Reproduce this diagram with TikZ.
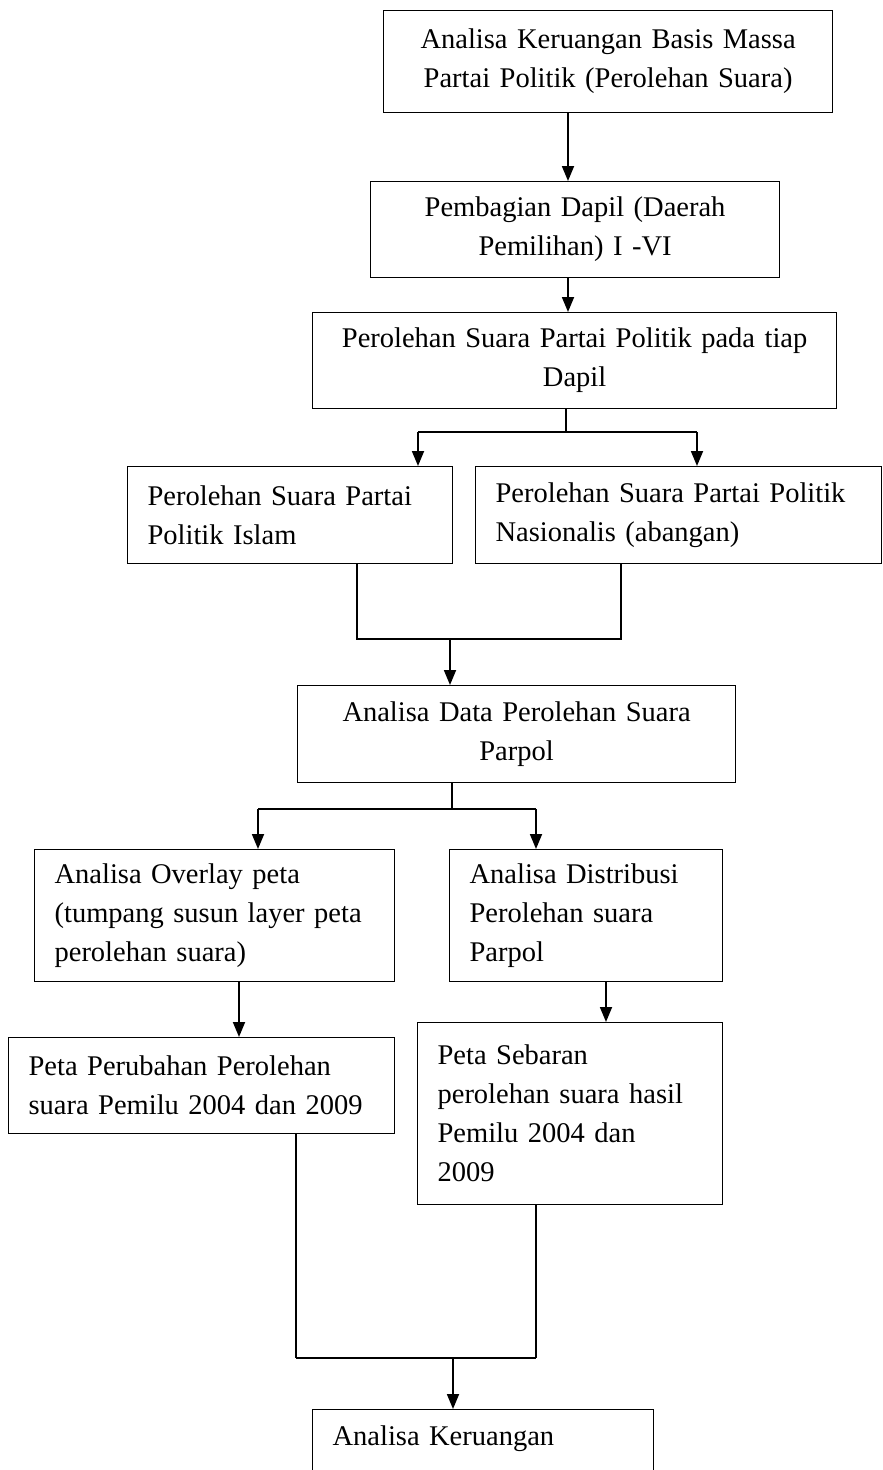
\documentclass[tikz,border=0pt]{standalone}
\usepackage{fontspec}
\setmainfont{Liberation Serif}
\usetikzlibrary{arrows.meta, positioning}

\tikzset{
  box/.style={draw, line width=1.2pt, anchor=north west, align=center,
    inner xsep=8pt, inner ysep=0pt},
  boxl/.style={box, align=left, inner xsep=20pt},
  arr/.style={-{Triangle[length=15pt,width=12pt]}, line width=1.8pt},
  link/.style={line width=1.8pt},
  bar/.style={line width=2.6pt},
}

\begin{document}
\begin{tikzpicture}[x=1pt, y=-1pt, every node/.style={font=\fontsize{28.5}{39}\selectfont}]
  \clip (0,0) rectangle (883,1470);
  % Boxes
  \node[box, text width=433pt, minimum height=102pt] (basis) at (383,10)
    {Analisa Keruangan Basis Massa\\Partai Politik (Perolehan Suara)};
  \node[box, text width=393pt, minimum height=96pt] (dapil) at (370,181)
    {Pembagian Dapil (Daerah\\Pemilihan) I -VI};
  \node[box, text width=508pt, minimum height=96pt] (suara) at (312,312)
    {Perolehan Suara Partai Politik pada tiap\\Dapil};
  \node[boxl, text width=285pt, minimum height=97pt] (islam) at (127,466)
    {Perolehan Suara Partai\\Politik Islam};
  \node[boxl, text width=366pt, minimum height=97pt] (nasional) at (475,466)
    {Perolehan Suara Partai Politik\\Nasionalis (abangan)};
  \node[box, text width=422pt, minimum height=97pt] (data) at (297,685)
    {Analisa Data Perolehan Suara\\Parpol};
  \node[boxl, text width=320pt, minimum height=132pt] (overlay) at (34,849)
    {Analisa Overlay peta\\(tumpang susun layer peta\\perolehan suara)};
  \node[boxl, text width=233pt, minimum height=132pt] (distribusi) at (449,849)
    {Analisa Distribusi\\Perolehan suara\\Parpol};
  \node[boxl, text width=346pt, minimum height=96pt] (perubahan) at (8,1037)
    {Peta Perubahan Perolehan\\suara Pemilu 2004 dan 2009};
  \node[boxl, text width=265pt, minimum height=182pt] (sebaran) at (417,1022)
    {Peta Sebaran\\perolehan suara hasil\\Pemilu 2004 dan\\2009};
  \node[boxl, text width=301pt, inner ysep=12pt, text height=24pt, text depth=80pt]
    (keruangan) at (312,1409) {Analisa Keruangan};

  % Branch and join points
  \coordinate (c1) at (568,0);
  \coordinate (c2) at (566,432);
  \coordinate (c3l) at (418,432);
  \coordinate (c3r) at (697,432);
  \coordinate (j1l) at (357,639);
  \coordinate (j1r) at (621,639);
  \coordinate (j1) at (450,639);
  \coordinate (c4) at (452,809);
  \coordinate (c5l) at (258,809);
  \coordinate (c5r) at (536,809);
  \coordinate (a6l) at (239,0);
  \coordinate (a6r) at (606,0);
  \coordinate (j2l) at (296,1358);
  \coordinate (j2r) at (536,1358);
  \coordinate (j2) at (453,1358);

  % Connectors
  \draw[arr] (basis.south -| c1) -- (dapil.north -| c1);
  \draw[arr] (dapil.south -| c1) -- (suara.north -| c1);
  \draw[link] (suara.south -| c2) -- (c2);
  \draw[bar] (c3l) -- (c3r);
  \draw[arr] (c3l) -- (islam.north -| c3l);
  \draw[arr] (c3r) -- (nasional.north -| c3r);
  \draw[link] (islam.south -| j1l) -- (j1l) -- (j1r) -- (nasional.south -| j1r);
  \draw[arr] (j1) -- (data.north -| j1);
  \draw[link] (data.south -| c4) -- (c4);
  \draw[bar] (c5l) -- (c5r);
  \draw[arr] (c5l) -- (overlay.north -| c5l);
  \draw[arr] (c5r) -- (distribusi.north -| c5r);
  \draw[arr] (overlay.south -| a6l) -- (perubahan.north -| a6l);
  \draw[arr] (distribusi.south -| a6r) -- (sebaran.north -| a6r);
  \draw[link] (perubahan.south -| j2l) -- (j2l);
  \draw[link] (sebaran.south -| j2r) -- (j2r);
  \draw[bar] (j2l) -- (j2r);
  \draw[arr] (j2) -- (keruangan.north -| j2);
\end{tikzpicture}
\end{document}
